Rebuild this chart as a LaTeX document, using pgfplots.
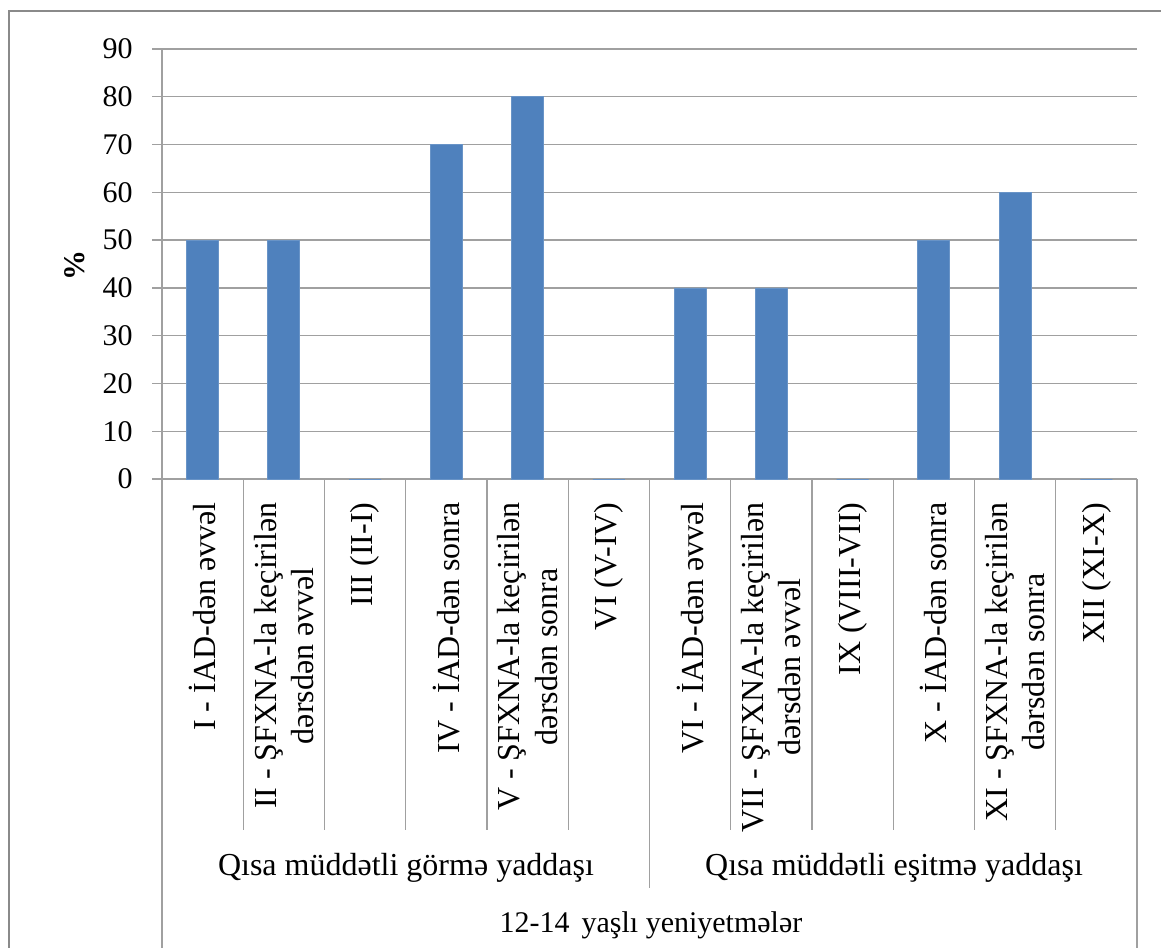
\documentclass[border=0pt]{standalone}
\usepackage{pgfplots}
\pgfplotsset{compat=1.18}
\usepackage{fontspec}
\setmainfont{Liberation Serif}
\definecolor{barblue}{HTML}{4F81BD}
\definecolor{gridgray}{HTML}{A0A0A0}
\definecolor{framegray}{HTML}{8A8A8A}
\newcommand\lblfont{\fontsize{15}{18}\selectfont}
\newcommand\catfont{\fontsize{16}{18.6}\selectfont}

\begin{document}
\lblfont
\begin{tikzpicture}
\clip (0,0) rectangle (580.5pt,-473.5pt);
\path[use as bounding box] (0,0) rectangle (580.5pt,-473.5pt);
\begin{scope}[x=0.5pt,y=-0.5pt]
  % chart-area frame
  \draw[framegray, line width=1pt] (9,11) rectangle (1200,1000);
\end{scope}

\begin{axis}[
  at={(81pt,-239.5pt)}, anchor=south west,
  scale only axis, width=487.5pt, height=215pt,
  xmin=0.5, xmax=12.5, ymin=0, ymax=90,
  clip=false,
  axis line style={draw=none},
  ytick={0,10,...,90},
  ymajorgrids,
  grid style={gridgray, line width=0.65pt},
  tick align=outside, ytick pos=left,
  major tick length=5pt,
  ytick style={gridgray, line width=0.65pt},
  xtick style={draw=none},
  yticklabel style={font=\lblfont, /pgf/number format/assume math mode=true, xshift=-4.5pt},
  xtick={1,...,12},
  xticklabels={
    {I - İAD-dən əvvəl},
    {II - ŞFXNA-la keçirilən\\dərsdən əvvəl},
    {III (II-I)},
    {IV - İAD-dən sonra},
    {V - ŞFXNA-la keçirilən\\dərsdən sonra},
    {VI (V-IV)},
    {VI - İAD-dən əvvəl},
    {VII - ŞFXNA-la keçirilən\\dərsdən əvvəl},
    {IX (VIII-VII)},
    {X - İAD-dən sonra},
    {XI - ŞFXNA-la keçirilən\\dərsdən sonra},
    {XII (XI-X)}},
  xticklabel style={font=\catfont, rotate=90, anchor=east, align=center, inner sep=0pt, xshift=-6.5pt},
]
\addplot[ybar, bar width=16pt, fill=barblue, draw=barblue!85!white, line width=0.4pt]
  coordinates {(1,50) (2,50) (3,0) (4,70) (5,80) (6,0)
               (7,40) (8,40) (9,0) (10,50) (11,60) (12,0)};
% category table lines below the axis
\draw[gridgray, line width=0.65pt] (axis cs:0.5,90) -- ++(0pt,-460pt);
\draw[gridgray, line width=0.65pt] (axis cs:12.5,0) -- ++(0pt,-300pt);
\draw[gridgray, line width=0.65pt] (axis cs:6.5,0) -- ++(0pt,-204.5pt);
\draw[gridgray, line width=0.65pt] (axis cs:1.5,0) -- ++(0pt,-175.5pt);
\draw[gridgray, line width=0.65pt] (axis cs:2.5,0) -- ++(0pt,-175.5pt);
\draw[gridgray, line width=0.65pt] (axis cs:3.5,0) -- ++(0pt,-175.5pt);
\draw[gridgray, line width=0.65pt] (axis cs:4.5,0) -- ++(0pt,-175.5pt);
\draw[gridgray, line width=0.65pt] (axis cs:5.5,0) -- ++(0pt,-175.5pt);
\draw[gridgray, line width=0.65pt] (axis cs:7.5,0) -- ++(0pt,-175.5pt);
\draw[gridgray, line width=0.65pt] (axis cs:8.5,0) -- ++(0pt,-175.5pt);
\draw[gridgray, line width=0.65pt] (axis cs:9.5,0) -- ++(0pt,-175.5pt);
\draw[gridgray, line width=0.65pt] (axis cs:10.5,0) -- ++(0pt,-175.5pt);
\draw[gridgray, line width=0.65pt] (axis cs:11.5,0) -- ++(0pt,-175.5pt);
\end{axis}

\begin{scope}[x=0.5pt,y=-0.5pt]
  \node[rotate=90, font=\lblfont\bfseries] at (75,265) {\%};
  \node[font=\catfont] at (406,868) {Qısa müddətli görmə yaddaşı};
  \node[font=\catfont] at (894,868) {Qısa müddətli eşitmə yaddaşı};
  \node[font=\lblfont] at (651,925) {12-14\hspace{0.4em}yaşlı yeniyetmələr};
\end{scope}
\end{tikzpicture}
\end{document}
